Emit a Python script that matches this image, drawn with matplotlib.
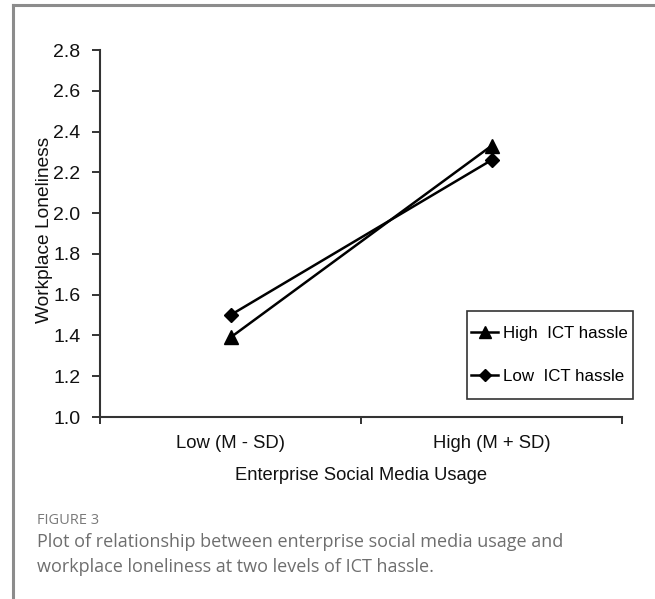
import matplotlib
matplotlib.use("Agg")
import matplotlib.pyplot as plt
from matplotlib.lines import Line2D
from matplotlib.patches import Rectangle

# Simple-slopes data: workplace loneliness at low/high enterprise social media usage
categories = ["Low (M - SD)", "High (M + SD)"]
high_hassle = [1.39, 2.33]
low_hassle = [1.50, 2.26]
series_labels = ["High  ICT hassle", "Low  ICT hassle"]
y_ticks = [1.0, 1.2, 1.4, 1.6, 1.8, 2.0, 2.2, 2.4, 2.6, 2.8]

chart_font = "Liberation Sans"
caption_font = "Open Sans"

W, H = 655, 599
fig = plt.figure(figsize=(W / 100, H / 100), dpi=100)
fig.patch.set_facecolor("white")

def fx(px):
    return px / W

def fy(py):
    return 1 - py / H

# panel frame (top and left rule)
fig.add_artist(Line2D([fx(13), fx(13)], [fy(5), 0], color="#8c8c8c", lw=2.2))
fig.add_artist(Line2D([fx(13), 1], [fy(5), fy(5)], color="#8c8c8c", lw=2.2))

ax = fig.add_axes([fx(100), fy(417), fx(622) - fx(100), fy(50) - fy(417)])
xpos = [0.5, 1.5]  # category centres
ax.plot(xpos, high_hassle, color="black", lw=1.8, marker="^", ms=10,
        label=series_labels[0])
ax.plot(xpos, low_hassle, color="black", lw=1.8, marker="D", ms=7,
        label=series_labels[1])

ax.set_xlim(0, 2)
ax.set_ylim(1.0, 2.8)
ax.set_yticks(y_ticks)
ax.set_yticklabels([f"{v:.1f}" for v in y_ticks])
ax.set_xticks([0, 1, 2])
ax.set_xticklabels([])
ax.set_xticks(xpos, minor=True)
ax.set_xticklabels(categories, minor=True)
ax.tick_params(axis="x", which="minor", length=0, pad=13)
ax.tick_params(axis="x", which="major", direction="out", length=5, width=1.4, color="#333333")
ax.tick_params(axis="y", direction="out", length=6, width=1.4, color="#333333", pad=8)
for lab in ax.get_xticklabels(minor=True):
    lab.set_fontfamily(chart_font)
    lab.set_fontsize(13.3)
    lab.set_color("#111111")
for lab in ax.get_yticklabels():
    lab.set_fontfamily(chart_font)
    lab.set_fontsize(14)
    lab.set_color("#111111")
for side in ("top", "right"):
    ax.spines[side].set_visible(False)
for side in ("left", "bottom"):
    ax.spines[side].set_linewidth(1.5)
    ax.spines[side].set_color("#333333")

fig.text(fx(45), fy(230), "Workplace Loneliness", rotation=90, ha="center", va="center",
         fontfamily=chart_font, fontsize=13.8, color="#111111")
fig.text(fx(361), fy(476), "Enterprise Social Media Usage", ha="center", va="center",
         fontfamily=chart_font, fontsize=13.2, color="#111111")

# legend box
fig.add_artist(Rectangle((fx(467), fy(399)), fx(633) - fx(467), fy(311) - fy(399),
                         transform=fig.transFigure, facecolor="white",
                         edgecolor="#333333", lw=1.2, zorder=4))
leg = ax.legend(loc="center left", bbox_to_anchor=(fx(471), fy(355)),
                bbox_transform=fig.transFigure, frameon=False,
                prop={"family": chart_font, "size": 12.2},
                handlelength=1.6, handletextpad=0.3, labelspacing=1.7,
                markerscale=0.85, borderpad=0, borderaxespad=0)
leg.set_zorder(5)
leg.remove()
fig.add_artist(leg)

fig.text(fx(37), fy(520), "FIGURE 3", ha="left", va="center",
         fontfamily=caption_font, fontsize=10.5, color="#7a7a7a")
fig.text(fx(37), fy(542), "Plot of relationship between enterprise social media usage and",
         ha="left", va="center", fontfamily=caption_font, fontsize=13, color="#6e6e6e")
fig.text(fx(37), fy(567), "workplace loneliness at two levels of ICT hassle.",
         ha="left", va="center", fontfamily=caption_font, fontsize=13, color="#6e6e6e")

fig.savefig("out.png", dpi=100)
